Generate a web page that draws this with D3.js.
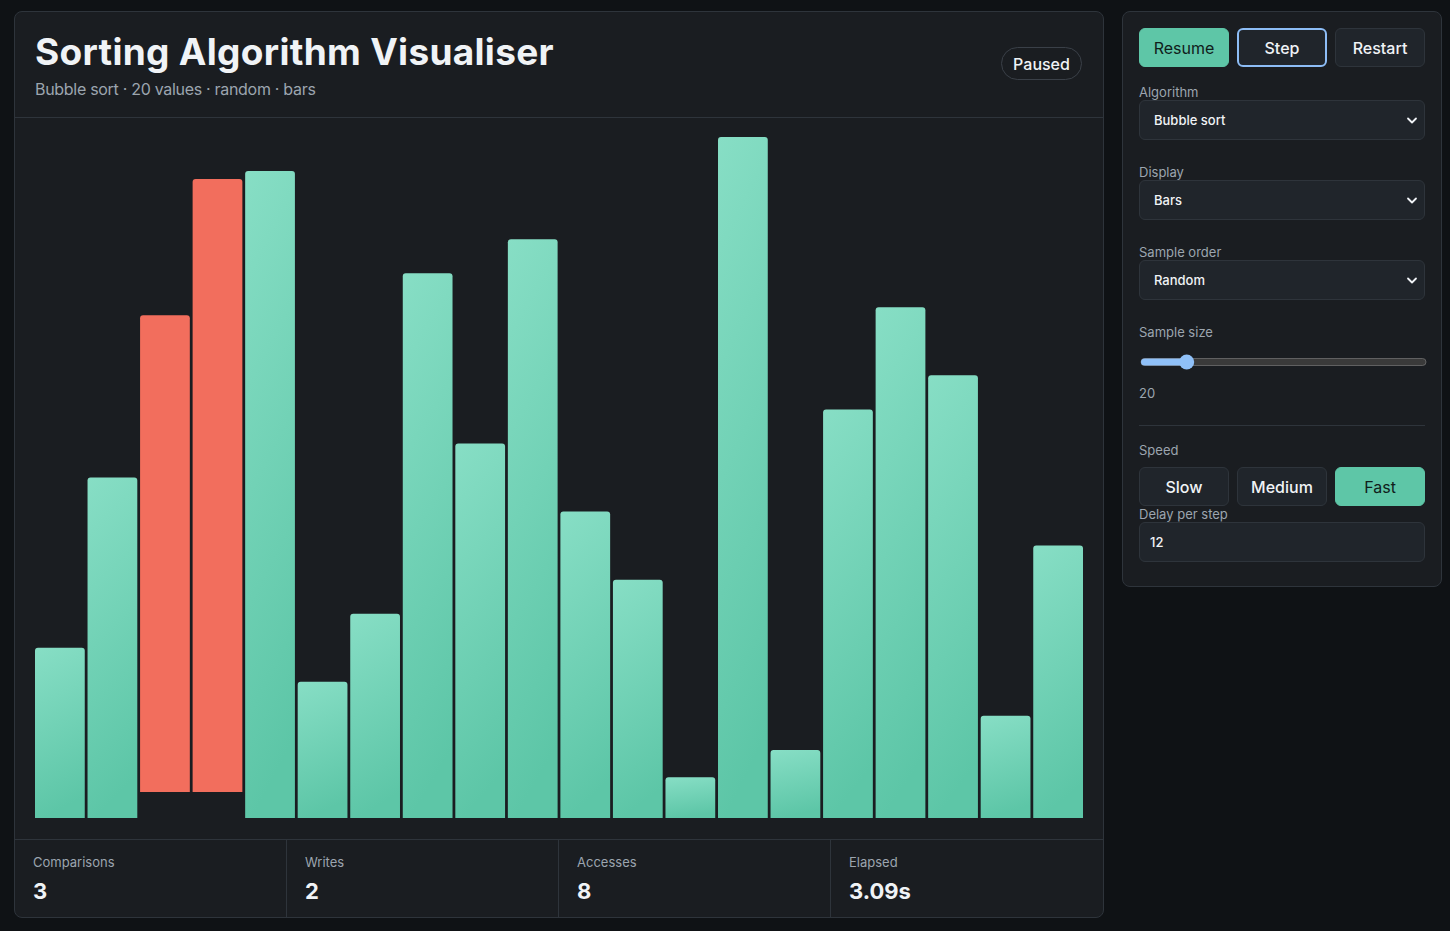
<!DOCTYPE html>
<html>
<head>
<meta charset="utf-8">
<title>Sorting Algorithm Visualiser</title>
<script src="https://cdn.jsdelivr.net/npm/d3@7"></script>
<style>
  * { box-sizing: border-box; }
  body {
    margin: 0;
    width: 1450px;
    height: 931px;
    background: #0f1215;
    font-family: Inter, "Noto Sans", sans-serif;
    color: #f0f3f6;
    position: relative;
    overflow: hidden;
  }
  .card {
    position: absolute;
    background: #1a1d21;
    border: 1px solid #2e343b;
    border-radius: 8px;
  }
  .abs { position: absolute; white-space: nowrap; }
  .title { font-size: 37px; line-height: 44px; font-weight: 700; letter-spacing: 0.3px; }
  .subtitle { font-size: 16px; line-height: 20px; color: #9ca5af; letter-spacing: -0.3px; }
  .pill {
    border: 1px solid #3a4048; border-radius: 999px;
    display: flex; align-items: center; justify-content: center;
    font-size: 16px; font-weight: 500;
  }
  .hline { position: absolute; height: 1px; background: #2e343b; }
  .vline { position: absolute; width: 1px; background: #2e343b; }
  .label { font-size: 13px; line-height: 16px; color: #9ca5af; }
  .value { font-size: 22px; line-height: 26px; font-weight: 700; }
  .btn {
    position: absolute; height: 39px; width: 90px;
    border-radius: 6px; border: 1px solid #2e343b; background: #20252b;
    display: flex; align-items: center; justify-content: center;
    font-size: 16px; font-weight: 500; color: #f0f3f6;
  }
  .btn.active { background: #5ec6a7; border-color: #5ec6a7; color: #10201b; font-weight: 400; }
  .btn.focus { border: 2px solid #8dbdf6; }
  .select {
    position: absolute; left: 16px; width: 286px; height: 40px;
    border-radius: 6px; border: 1px solid #2e343b; background: #20252b;
    display: flex; align-items: center; padding-left: 14px;
    font-size: 13px; font-weight: 500;
  }
  .select svg { position: absolute; right: 6px; top: 15px; }
</style>
</head>
<body>
<div id="main" class="card" style="left:14px; top:11px; width:1090px; height:907px;">
  <div class="abs title" style="left:20px; top:18px;">Sorting Algorithm Visualiser</div>
  <div class="abs subtitle" id="subtitle" style="left:20px; top:67px;"></div>
  <div class="abs pill" style="left:986px; top:35px; width:81px; height:33px;">Paused</div>
  <div class="hline" style="left:0; top:105px; width:1088px;"></div>
  <svg id="bars" class="abs" style="left:0; top:106px;" width="1088" height="721"></svg>
  <div class="hline" style="left:0; top:827px; width:1088px;"></div>
  <div id="stats"></div>
</div>

<div id="side" class="card" style="left:1122px; top:11px; width:320px; height:576px;">
  <div id="topButtons"></div>
  <div id="selects"></div>
  <div class="abs label" style="left:16px; top:312px;">Sample size</div>
  <svg id="slider" class="abs" style="left:16px; top:340px;" width="290" height="20"></svg>
  <div class="abs label" id="sizeValue" style="left:16px; top:373px;"></div>
  <div class="hline" style="left:16px; top:413px; width:286px;"></div>
  <div class="abs label" style="left:16px; top:430px;">Speed</div>
  <div id="speedButtons"></div>
  <div class="abs label" style="left:16px; top:494px;">Delay per step</div>
  <div class="select" id="delay" style="top:510px; padding-left:10px;"></div>
</div>

<script>
// sample being sorted (one frame of bubble sort, paused)
var values = [25, 50, 70, 90, 95, 20, 30, 80, 55, 85, 45, 35, 6, 100, 10, 60, 75, 65, 15, 40];
var comparing = [2, 3];

var algorithm = "Bubble sort";
var display = "Bars";
var sampleOrder = "Random";
var sampleSize = 20;
var sizeRange = [5, 100];
var delay = 12;

var statLabels = ["Comparisons", "Writes", "Accesses", "Elapsed"];
var statValues = ["3", "2", "8", "3.09s"];

var topButtons = ["Resume", "Step", "Restart"];
var speedButtons = ["Slow", "Medium", "Fast"];

var selectLabels = ["Algorithm", "Display", "Sample order"];
var selectValues = [algorithm, display, sampleOrder];

// header subtitle
d3.select("#subtitle").text(`${algorithm} · ${values.length} values · ${sampleOrder.toLowerCase()} · ${display.toLowerCase()}`);

// bars
var svg = d3.select("#bars");
var x = d3.scaleBand()
  .domain(d3.range(values.length))
  .range([20, 1068])
  .paddingInner(0.053);
var y = d3.scaleLinear()
  .domain([0, 100])
  .range([700, 19]);

var grad = svg.append("defs").append("linearGradient")
  .attr("id", "barGrad")
  .attr("x1", 0).attr("y1", 0).attr("x2", 0.15).attr("y2", 1);
grad.append("stop").attr("offset", "0%").attr("stop-color", "#87dec5");
grad.append("stop").attr("offset", "100%").attr("stop-color", "#5dc6a7");

// rect with rounded top corners only
function barPath(x0, y0, w, h) {
  var r = 3;
  return `M${x0},${y0 + h} L${x0},${y0 + r} Q${x0},${y0} ${x0 + r},${y0} ` +
    `L${x0 + w - r},${y0} Q${x0 + w},${y0} ${x0 + w},${y0 + r} L${x0 + w},${y0 + h} Z`;
}

svg.selectAll("path.bar")
  .data(values)
  .enter()
  .append("path")
  .attr("class", "bar")
  .attr("d", (d, i) => barPath(x(i), y(d), x.bandwidth(), y(0) - y(d)))
  .attr("fill", (d, i) => comparing.includes(i) ? "#f26e5d" : "url(#barGrad)")
  .attr("transform", (d, i) => comparing.includes(i) ? "translate(0,-26)" : null);

// stats row
var stats = d3.select("#stats");
statLabels.forEach((label, i) => {
  if (i > 0) {
    stats.append("div").attr("class", "vline")
      .style("left", (272 * i - 1) + "px").style("top", "828px").style("height", "77px");
  }
  stats.append("div").attr("class", "abs label")
    .style("left", (272 * i + 18) + "px").style("top", "842px")
    .text(label);
  stats.append("div").attr("class", "abs value")
    .style("left", (272 * i + 18) + "px").style("top", "866px")
    .text(statValues[i]);
});

// side panel buttons
d3.select("#topButtons").selectAll("div")
  .data(topButtons)
  .enter()
  .append("div")
  .attr("class", (d, i) => "btn" + (i == 0 ? " active" : "") + (i == 1 ? " focus" : ""))
  .style("left", (d, i) => (16 + i * 98) + "px")
  .style("top", "16px")
  .text(d => d);

var sel = d3.select("#selects");
selectLabels.forEach((label, i) => {
  sel.append("div").attr("class", "abs label")
    .style("left", "16px").style("top", (72 + i * 80) + "px")
    .text(label);
  var box = sel.append("div").attr("class", "select")
    .style("top", (88 + i * 80) + "px");
  box.append("span").text(selectValues[i]);
  var chev = box.append("svg").attr("width", 12).attr("height", 10);
  chev.append("path")
    .attr("d", "M2,2.5 L6,6.5 L10,2.5")
    .attr("fill", "none").attr("stroke", "#f0f3f6")
    .attr("stroke-width", 1.8).attr("stroke-linecap", "round").attr("stroke-linejoin", "round");
});

// sample size slider
var slider = d3.select("#slider");
var sx = d3.scaleLinear().domain(sizeRange).range([3, 286]);
slider.append("rect")
  .attr("x", sx(sizeRange[0]) - 1).attr("y", 6.5).attr("width", sx(sizeRange[1]) - sx(sizeRange[0]) + 2).attr("height", 7)
  .attr("rx", 3.5).attr("fill", "#3a3a3a").attr("stroke", "#6e6e6e").attr("stroke-width", 0.8);
slider.append("rect")
  .attr("x", sx(sizeRange[0]) - 1).attr("y", 6.5).attr("width", sx(sampleSize) - sx(sizeRange[0]) + 1).attr("height", 7)
  .attr("rx", 3.5).attr("fill", "#8fc0f8");
slider.append("circle")
  .attr("cx", sx(sampleSize)).attr("cy", 10).attr("r", 7.5)
  .attr("fill", "#8fc0f8");
d3.select("#sizeValue").text(sampleSize);

d3.select("#speedButtons").selectAll("div")
  .data(speedButtons)
  .enter()
  .append("div")
  .attr("class", (d, i) => "btn" + (i == 2 ? " active" : ""))
  .style("left", (d, i) => (16 + i * 98) + "px")
  .style("top", "455px")
  .text(d => d);

d3.select("#delay").text(delay);
</script>
</body>
</html>
